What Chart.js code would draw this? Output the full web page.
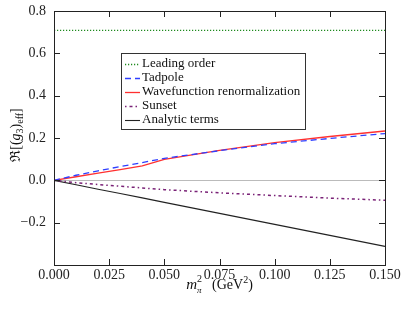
<!DOCTYPE html>
<html lang="en">
<head>
<meta charset="UTF-8">
<title>Effective coupling vs pion mass squared</title>
<style>
  html, body { margin: 0; padding: 0; background: #fff; }
  #wrap { width: 407px; height: 312px; }
</style>
<script src="https://cdn.jsdelivr.net/npm/chart.js"></script>
</head>
<body>
<div id="wrap"><canvas id="g3Chart"></canvas></div>
<script>
// values
const mpi2 = [0, 0.01, 0.02, 0.03, 0.04, 0.05, 0.075, 0.1, 0.125, 0.15];
const leadingOrder = [0.708, 0.708, 0.708, 0.708, 0.708, 0.708, 0.708, 0.708, 0.708, 0.708];
const tadpole = [0, 0.024, 0.045, 0.065, 0.084, 0.104, 0.140, 0.173, 0.198, 0.221];
const wavefunction = [0, 0.017, 0.034, 0.051, 0.068, 0.099, 0.142, 0.178, 0.207, 0.233];
const sunset = [0, -0.011, -0.020, -0.028, -0.036, -0.044, -0.059, -0.072, -0.084, -0.094];
const analytic = [0, -0.021, -0.042, -0.062, -0.083, -0.104, -0.156, -0.208, -0.260, -0.312];
const xTicks = [0, 0.025, 0.05, 0.075, 0.1, 0.125, 0.15];

const SERIF = '"Liberation Serif", "DejaVu Serif", serif';

function pts(ys) {
  return mpi2.map((x, i) => ({ x: x, y: ys[i] }));
}

// draws a run of text pieces, some shifted up/down (sup/sub)
function richText(ctx, parts, x, y, align) {
  const widths = parts.map(p => {
    ctx.font = (p.italic ? 'italic ' : '') + p.size + 'px ' + SERIF;
    return ctx.measureText(p.t).width;
  });
  const total = widths.reduce((a, b, i) => a + (parts[i].stack ? 0 : b), 0);
  let cx = align === 'center' ? x - total / 2 : x;
  ctx.textBaseline = 'alphabetic';
  ctx.textAlign = 'left';
  parts.forEach((p, i) => {
    ctx.font = (p.italic ? 'italic ' : '') + p.size + 'px ' + SERIF;
    ctx.fillText(p.t, cx, y + (p.dy || 0));
    if (!p.stack) cx += widths[i];
  });
}

const framePlugin = {
  id: 'frame',
  afterDraw(chart) {
    const ctx = chart.ctx;
    const a = chart.chartArea;
    const xs = chart.scales.x, ys = chart.scales.y;
    ctx.save();
    ctx.strokeStyle = '#222';
    ctx.lineWidth = 1;
    ctx.strokeRect(Math.round(a.left) + 0.5, Math.round(a.top) + 0.5,
      Math.round(a.right - a.left), Math.round(a.bottom - a.top));
    ctx.beginPath();
    xTicks.forEach(v => {
      const px = Math.round(xs.getPixelForValue(v)) + 0.5;
      ctx.moveTo(px, a.bottom); ctx.lineTo(px, a.bottom - 6);
      ctx.moveTo(px, a.top); ctx.lineTo(px, a.top + 6);
    });
    ys.ticks.forEach(t => {
      const py = Math.round(ys.getPixelForValue(t.value)) + 0.5;
      ctx.moveTo(a.left, py); ctx.lineTo(a.left + 6, py);
      ctx.moveTo(a.right, py); ctx.lineTo(a.right - 6, py);
    });
    ctx.stroke();

    // axis titles
    ctx.fillStyle = '#111';
    const midX = (a.left + a.right) / 2;
    richText(ctx, [
      { t: 'm', italic: true, size: 15 },
      { t: '2', size: 10, dy: -7, stack: true },
      { t: 'π', italic: true, size: 9, dy: 4 },
      { t: '   (GeV', size: 14 },
      { t: '2', size: 10, dy: -6 },
      { t: ')', size: 14 }
    ], midX, 289, 'center');

    ctx.save();
    ctx.translate(20, (a.top + a.bottom) / 2 - 3);
    ctx.rotate(-Math.PI / 2);
    richText(ctx, [
      { t: 'ℜ[(', size: 14 },
      { t: 'g', italic: true, size: 14 },
      { t: '3', size: 10, dy: 3 },
      { t: ')', size: 14 },
      { t: 'eff', size: 10, dy: 3 },
      { t: ']', size: 14 }
    ], 0, 0, 'center');
    ctx.restore();

    // legend box
    const bx = 121, by = 53, bw = 184, bh = 76;
    ctx.fillStyle = '#fff';
    ctx.fillRect(bx, by, bw, bh);
    ctx.strokeStyle = '#333';
    ctx.strokeRect(bx + 0.5, by + 0.5, bw, bh);
    chart.data.datasets.forEach((ds, i) => {
      const ly = by + 11 + i * 14;
      ctx.beginPath();
      ctx.strokeStyle = ds.borderColor;
      ctx.lineWidth = ds.borderWidth;
      ctx.setLineDash(ds.borderDash || []);
      ctx.moveTo(bx + 4, ly + 0.5);
      ctx.lineTo(bx + 19, ly + 0.5);
      ctx.stroke();
      ctx.setLineDash([]);
      ctx.fillStyle = '#111';
      ctx.font = '13px ' + SERIF;
      ctx.textAlign = 'left';
      ctx.textBaseline = 'middle';
      ctx.fillText(ds.label, bx + 21, ly);
    });
    ctx.restore();
  }
};

new Chart(document.getElementById('g3Chart'), {
  type: 'line',
  data: {
    datasets: [
      { label: 'Leading order', data: pts(leadingOrder), borderColor: '#1f8a1f', borderWidth: 1.3, borderDash: [1.2, 1.8] },
      { label: 'Tadpole', data: pts(tadpole), borderColor: '#2f3fff', borderWidth: 1.3, borderDash: [6, 4] },
      { label: 'Wavefunction renormalization', data: pts(wavefunction), borderColor: '#ff3030', borderWidth: 1.3 },
      { label: 'Sunset', data: pts(sunset), borderColor: '#7a2277', borderWidth: 1.5, borderDash: [1.5, 3, 3, 3] },
      { label: 'Analytic terms', data: pts(analytic), borderColor: '#222', borderWidth: 1.1 }
    ]
  },
  options: {
    responsive: true,
    maintainAspectRatio: false,
    animation: false,
    devicePixelRatio: 1,
    layout: { padding: { top: 11, right: 22, left: 0, bottom: 0 } },
    elements: { point: { radius: 0 }, line: { tension: 0, fill: false } },
    plugins: { legend: { display: false }, tooltip: { enabled: false } },
    scales: {
      x: {
        type: 'linear',
        min: 0, max: 0.15,
        afterBuildTicks: s => { s.ticks = xTicks.map(v => ({ value: v })); },
        ticks: {
          callback: v => v.toFixed(3),
          font: { family: SERIF, size: 14 },
          color: '#222',
          padding: 2,
          maxRotation: 0,
          autoSkip: false
        },
        grid: { display: true, drawOnChartArea: false, drawTicks: false },
        border: { display: false },
        afterFit: s => { s.height = 47; s.paddingLeft = 0; s.paddingRight = 0; }
      },
      y: {
        min: -0.4, max: 0.8,
        ticks: {
          stepSize: 0.2,
          callback: v => v < -0.3 ? '' : (v < -1e-9 ? '−' + Math.abs(v).toFixed(1) : Math.abs(v).toFixed(1)),
          font: { family: SERIF, size: 14 },
          color: '#222',
          padding: 8
        },
        grid: {
          drawTicks: false,
          color: c => (c.tick && Math.abs(c.tick.value) < 1e-9) ? '#bbbbbb' : 'rgba(0,0,0,0)',
          lineWidth: 1
        },
        border: { display: false },
        afterFit: s => { s.width = 54; s.paddingTop = 0; s.paddingBottom = 0; }
      }
    }
  },
  plugins: [framePlugin]
});
</script>
</body>
</html>
